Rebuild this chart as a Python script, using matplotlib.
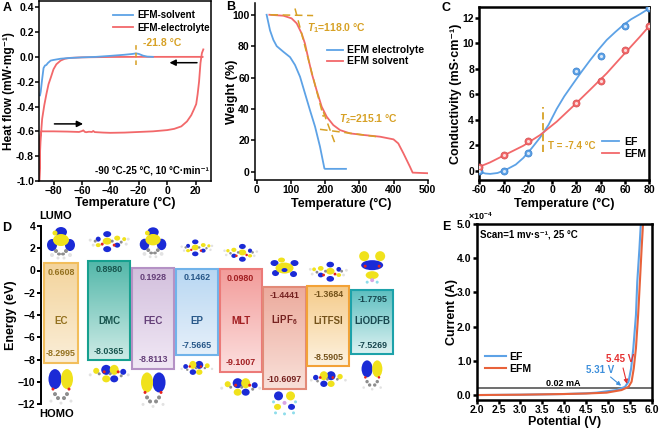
import numpy as np
import matplotlib
matplotlib.use('Agg')
import matplotlib.pyplot as plt
import matplotlib.colors as mcolors
from matplotlib.patches import Rectangle, Ellipse
from matplotlib.ticker import FuncFormatter, FormatStrFormatter

# ---------------- data ----------------
# A: DSC curves
a_solv_T = [-89.5, -89.0, -88.0, -87.0, -86.0, -85.0, -84.0, -82.0, -80.0, -75.0, -70.0, -60.0,
            -50.0, -40.0, -30.0, -24.0, -22.0, -20.0, -17.0, -14.0, -10.0]
a_solv_H = [-0.31, -0.28, -0.18, -0.09, -0.07, -0.065, -0.05, -0.03, -0.025, -0.015, -0.01, -0.004,
            0.0, 0.008, 0.017, 0.024, 0.028, 0.024, 0.01, 0.002, 0.0]
a_elec_T = [25.0, 10.0, 0.0, -20.0, -40.0, -60.0, -68.0, -72.0, -75.0, -78.0, -80.0, -82.0, -83.5,
            -85.0, -86.5, -88.0, -89.0, -89.6, -90.0, -89.8, -89.6, -89.3, -88.5, -85.0, -80.0,
            -70.0, -62.0, -60.0, -59.0, -58.0, -57.0, -55.0, -53.0, -52.0, -51.0, -45.0, -40.0,
            -30.0, -20.0, -10.0, 0.0, 5.0, 10.0, 14.0, 17.0, 19.0, 20.5, 21.5, 22.5, 23.5, 24.5, 25.5]
a_elec_H = [0.0, 0.0, 0.0, 0.0, -0.001, -0.004, -0.008, -0.015, -0.03, -0.06, -0.1, -0.17, -0.22,
            -0.3, -0.39, -0.5, -0.65, -0.8, -1.0, -0.9, -0.75, -0.63, -0.6, -0.6, -0.6,
            -0.602, -0.605, -0.598, -0.592, -0.604, -0.607, -0.603, -0.605, -0.597, -0.606, -0.61, -0.612,
            -0.61, -0.605, -0.6, -0.59, -0.58, -0.56, -0.52, -0.47, -0.42, -0.38, -0.3, -0.2, -0.05, 0.03, 0.06]
a_peak_T = -21.8
a_xticks = [-80, -60, -40, -20, 0, 20]
a_yticks = [-1.0, -0.8, -0.6, -0.4, -0.2, 0.0, 0.2, 0.4]

# B: TGA curves
b_elec_T = [29, 39, 48.7, 58.5, 78, 97.5, 112, 126.7, 141, 156, 170.6, 185, 198, 200, 261]
b_elec_W = [100, 90, 84, 80, 76.4, 73, 68, 60.5, 50, 39, 28.7, 16, 2.0, 1.8, 1.8]
b_solv_T = [37, 78, 102, 117, 131.6, 141, 151, 161, 175, 190, 204.7, 224, 243.7, 273, 312, 360.6,
            400, 414, 429, 448, 456, 502]
b_solv_W = [100, 99.4, 97.7, 94.5, 88, 81.7, 72, 62.6, 52, 41.4, 35, 29.7, 26.5, 24.4, 23.4, 22.3,
            20.6, 18, 11.7, 3.2, -0.6, -1.0]
b_T1 = 118.0
b_T2 = 215.1
b_tan1_T = [40, 165]
b_tan1_W = [100, 99.5]
b_tan2_T = [112, 195]
b_tan2_W = [104, 35]
b_tan3_T = [185, 351]
b_tan3_W = [27, 22.3]
b_tan4_T = [195, 229]
b_tan4_W = [38, 18]

# C: conductivity
c_T = [-60, -40, -20, 20, 40, 60, 80]
c_EF = [-0.05, 0.0, 1.36, 7.86, 9.04, 11.34, 12.8]
c_EFM = [0.31, 1.2, 2.3, 5.34, 7.05, 9.48, 11.37]
c_fitEF_T = [-60, -55, -51, -45, -37.5, -30, -23.8, -17, -10, -3, 3.7, 10, 17.4, 24, 31, 38,
             44.9, 52, 58.6, 65, 72.3, 80]
c_fitEF = [-0.08, -0.22, -0.25, -0.18, 0.1, 0.48, 1.0, 1.75, 2.6, 3.6, 4.85, 5.85, 6.86, 7.75,
           8.65, 9.5, 10.27, 10.9, 11.45, 11.9, 12.3, 12.76]
c_fitEFM_T = [-60, -51.2, -37.5, -23.8, -10, 3.7, 17.4, 31, 44.9, 58.6, 72.3, 80]
c_fitEFM = [0.31, 0.65, 1.31, 1.96, 2.8, 3.85, 5.08, 6.34, 7.65, 9.1, 10.53, 11.37]
c_cross_T = -7.4

# D: LUMO/HOMO energies
d_names = ['EC', 'DMC', 'FEC', 'EP', 'MLT', 'LiPF$_6$', 'LiTFSI', 'LiODFB']
d_lumo = [0.6608, 0.8980, 0.1928, 0.1462, 0.0980, -1.4441, -1.3684, -1.7795]
d_homo = [-8.2995, -8.0365, -8.8113, -7.5665, -9.1007, -10.6097, -8.5905, -7.5269]

# E: LSV
e_ef_V = [2.0, 2.5, 3.0, 3.5, 4.0, 4.5, 4.74, 5.2, 5.39, 5.47, 5.53, 5.58, 5.64, 5.67, 5.72, 5.75, 5.77]
e_ef_I = [0.0, 0.005, 0.01, 0.02, 0.03, 0.05, 0.07, 0.146, 0.24, 0.39, 0.78, 1.37, 2.34, 3.31, 4.29, 4.97, 5.6]
e_efm_V = [2.0, 2.5, 3.0, 3.5, 4.0, 4.5, 4.97, 5.31, 5.47, 5.54, 5.59, 5.64, 5.69, 5.73, 5.77, 5.80, 5.82]
e_efm_I = [0.0, 0.005, 0.01, 0.02, 0.03, 0.045, 0.07, 0.146, 0.24, 0.39, 0.78, 1.37, 2.34, 3.31, 4.29, 4.97, 5.6]
e_limit = 0.2          # 0.02 mA in units of 1e-4 A
e_onset = [5.31, 5.45]

# ---------------- style ----------------
plt.rcParams['font.family'] = ['Liberation Sans', 'DejaVu Sans']
plt.rcParams['font.weight'] = 'bold'
plt.rcParams['axes.labelweight'] = 'bold'
plt.rcParams['mathtext.fontset'] = 'custom'
plt.rcParams['mathtext.rm'] = 'Liberation Sans:bold'
plt.rcParams['mathtext.it'] = 'Liberation Sans:italic:bold'
plt.rcParams['mathtext.bf'] = 'Liberation Sans:bold'
plt.rcParams['mathtext.default'] = 'rm'

BLUE = '#5DA2E6'
RED = '#F2686A'
ERED = '#E8623A'
ORANGE = '#D7A125'
TICK = 7.5
LAB = 9

W, H = 660, 430
fig = plt.figure(figsize=(W / 100, H / 100), dpi=100)


def add_ax(l, t, r, b):
    return fig.add_axes([l / W, 1 - b / H, (r - l) / W, (b - t) / H])


def style(ax, lw=1.2, spines=('left', 'bottom', 'top', 'right')):
    for s in ['left', 'bottom', 'top', 'right']:
        ax.spines[s].set_visible(s in spines)
        ax.spines[s].set_linewidth(lw)
    ax.tick_params(direction='out', length=2.8, width=lw, labelsize=TICK, pad=1)


def place_labels(ax, l, t, r, b, ylab_right=None, xlab_top=None):
    if ylab_right is not None:
        ax.yaxis.set_label_coords((ylab_right - l) / (r - l), 0.5)
    if xlab_top is not None:
        ax.xaxis.set_label_coords(0.5, -(xlab_top - b) / (b - t))


def letter(x, y, s):
    fig.text(x / W, 1 - y / H, s, fontsize=9, fontweight='bold', va='top', ha='left')


# ---------------- A ----------------
A_BOX = (39.3, 1, 210.7, 181)
axA = add_ax(*A_BOX)
style(axA, 1.1)
lA2, = axA.plot(a_elec_T, a_elec_H, color=RED, lw=1.3, label='EFM-electrolyte')
lA1, = axA.plot(a_solv_T, a_solv_H, color=BLUE, lw=1.3, label='EFM-solvent')
axA.set_xlim(-90, 30.7)
axA.set_ylim(-1.0, 0.45)
axA.set_xticks(a_xticks)
axA.set_yticks(a_yticks)
axA.yaxis.set_major_formatter(FormatStrFormatter('%.1f'))
axA.set_xlabel('Temperature (°C)', fontsize=LAB)
axA.set_ylabel('Heat flow (mW·mg⁻¹)', fontsize=8.6)
place_labels(axA, *A_BOX, ylab_right=15.5, xlab_top=197)
axA.plot([a_peak_T, a_peak_T], [-0.065, 0.1], color=ORANGE, lw=1.1, ls=(0, (3, 2)))
axA.text(a_peak_T + 5, 0.11, f'{a_peak_T} °C', color=ORANGE, fontsize=7.5, va='center', ha='left')
axA.annotate('', xy=(-0.3, -0.047), xytext=(23, -0.047),
             arrowprops=dict(arrowstyle='-|>', color='k', lw=1.1, mutation_scale=9))
axA.annotate('', xy=(-57.2, -0.54), xytext=(-81.3, -0.54),
             arrowprops=dict(arrowstyle='-|>', color='k', lw=1.1, mutation_scale=9))
axA.text(0.99, 0.03, '-90 °C-25 °C, 10 °C·min⁻¹', transform=axA.transAxes,
         fontsize=7, ha='right', va='bottom')
axA.legend(handles=[lA1, lA2], loc='center left', bbox_to_anchor=(-38.3, 0.284),
           bbox_transform=axA.transData, frameon=False, fontsize=7, borderpad=0,
           borderaxespad=0, handlelength=2.1, handletextpad=0.4, labelspacing=0.25)
letter(3, 2, 'A')

# ---------------- B ----------------
B_BOX = (255, 3, 427.7, 180)
axB = add_ax(*B_BOX)
style(axB, 1.1, spines=('left', 'bottom'))
lB1, = axB.plot(b_elec_T, b_elec_W, color=BLUE, lw=1.3, label='EFM electrolyte')
lB2, = axB.plot(b_solv_T, b_solv_W, color=RED, lw=1.3, label='EFM solvent')
for tx, tw in [(b_tan1_T, b_tan1_W), (b_tan2_T, b_tan2_W), (b_tan3_T, b_tan3_W), (b_tan4_T, b_tan4_W)]:
    axB.plot(tx, tw, color=ORANGE, lw=1.1, ls=(0, (5, 3)))
axB.set_xlim(-5, 500)
axB.set_ylim(-5.3, 107.5)
axB.set_xticks([0, 100, 200, 300, 400, 500])
axB.set_yticks([0, 20, 40, 60, 80, 100])
axB.set_xlabel('Temperature (°C)', fontsize=LAB)
axB.set_ylabel('Weight (%)', fontsize=LAB)
place_labels(axB, *B_BOX, ylab_right=238.3, xlab_top=198)
axB.text(148, 91.4, r'$\mathit{T}_1$' + f'={b_T1:.1f} °C', color=ORANGE, fontsize=7.5, va='center')
axB.text(241.5, 33.4, r'$\mathit{T}_2$' + f'={b_T2:.1f} °C', color=ORANGE, fontsize=7.5, va='center')
axB.legend(handles=[lB1, lB2], loc='center left', bbox_to_anchor=(204.6, 73.9),
           bbox_transform=axB.transData, frameon=False, fontsize=7.5, borderpad=0,
           borderaxespad=0, handlelength=1.6, handletextpad=0.35, labelspacing=0.1)
letter(226, 1, 'B')

# ---------------- C ----------------
C_BOX = (479.3, 7.3, 649.3, 180)
axC = add_ax(*C_BOX)
style(axC, 1.8)
lC1, = axC.plot(c_fitEF_T, c_fitEF, color=BLUE, lw=1.3, label='EF')
lC2, = axC.plot(c_fitEFM_T, c_fitEFM, color=RED, lw=1.3, label='EFM')
axC.scatter(c_T, c_EF, s=26, color=BLUE, edgecolors='#3A7FCC', linewidths=0.5, zorder=4)
axC.scatter(c_T, c_EF, s=5, color='#D8E8FA', linewidths=0, zorder=5)
axC.scatter(c_T, c_EFM, s=26, color=RED, edgecolors='#D24E50', linewidths=0.5, zorder=4)
axC.scatter(c_T, c_EFM, s=5, color='#FBDCDC', linewidths=0, zorder=5)
axC.plot([c_cross_T, c_cross_T], [1.5, 5.0], color=ORANGE, lw=1.3, ls=(0, (4, 2)))
axC.text(c_cross_T + 4.2, 1.96, f'T = {c_cross_T} °C', color=ORANGE, fontsize=7, va='center')
axC.set_xlim(-60, 80)
axC.set_ylim(-0.73, 12.84)
axC.set_xticks([-60, -40, -20, 0, 20, 40, 60, 80])
axC.set_yticks([0, 2, 4, 6, 8, 10, 12])
axC.xaxis.set_major_formatter(FuncFormatter(lambda v, p: f'{v:g}'))
axC.set_xlabel('Temperature (°C)', fontsize=LAB)
axC.set_ylabel('Conductivity (mS·cm⁻¹)', fontsize=LAB)
place_labels(axC, *C_BOX, ylab_right=462, xlab_top=198)
axC.legend(handles=[lC1, lC2], loc='center left', bbox_to_anchor=(40.8, 1.8),
           bbox_transform=axC.transData, frameon=False, fontsize=7.5, borderpad=0,
           borderaxespad=0, handlelength=1.7, handletextpad=0.45, labelspacing=0.2)
letter(442, 2, 'C')

# ---------------- D ----------------
D_L, D_T, D_R, D_B = 40.7, 226, 400, 404
axD = add_ax(D_L, D_T, D_R, D_B)
style(axD, 1.4, spines=('left',))
D_XMIN, D_XMAX = -0.563, 7.635
axD.set_xlim(D_XMIN, D_XMAX)
axD.set_ylim(-12, 4)
axD.set_xticks([])
axD.set_yticks(list(range(-12, 5, 2)))
axD.set_ylabel('Energy (eV)', fontsize=LAB)
place_labels(axD, D_L, D_T, D_R, D_B, ylab_right=17)

box_w = [0.76, 0.96, 0.96, 0.96, 0.96, 0.96, 0.96, 0.96]
box_dx = [-0.1, 0, 0, 0, 0, 0, 0, 0]
box_top_c = ['#F3D49C', '#52B7A9', '#D3C0DD', '#B8D7F2', '#F29C9A', '#ECAB9D', '#F5CB8A', '#5DBFC0']
box_bot_c = ['#FBEED8', '#CDEBE6', '#F1E8F5', '#E6F0FA', '#FCE0DF', '#F9E0D9', '#FDF2DF', '#DDF2F2']
box_edge = ['#F2BE5C', '#16A08F', '#B592C5', '#71B3EA', '#EC7A78', '#E28A78', '#F3A237', '#1DA2AA']
box_txt = ['#94711F', '#17544D', '#643F78', '#285889', '#A21F22', '#762220', '#74521A', '#18474F']

for i, (nm, lu, ho) in enumerate(zip(d_names, d_lumo, d_homo)):
    xc = i + box_dx[i]
    x0, x1 = xc - box_w[i] / 2, xc + box_w[i] / 2
    ct = np.array(mcolors.to_rgb(box_top_c[i]))
    cb = np.array(mcolors.to_rgb(box_bot_c[i]))
    t = np.linspace(0, 1, 64)[:, None, None]
    img = ct[None, None, :] * (1 - t) + cb[None, None, :] * t
    axD.imshow(img, extent=[x0, x1, ho, lu], aspect='auto', origin='upper', zorder=1,
               interpolation='bilinear')
    axD.add_patch(Rectangle((x0, ho), x1 - x0, lu - ho, fill=False, ec=box_edge[i], lw=1.5, zorder=2))
    axD.text(xc, lu - 0.8, f'{lu:.4f}', ha='center', va='center', fontsize=6.4, color=box_txt[i], zorder=4)
    axD.text(xc, ho + 0.8, f'{ho:.4f}', ha='center', va='center', fontsize=6.4, color=box_txt[i], zorder=4)
    axD.text(xc, -4.5, nm, ha='center', va='center', fontsize=7, color=box_txt[i], zorder=4)
axD.set_xlim(D_XMIN, D_XMAX)
axD.set_ylim(-12, 4)

# orbital icons (decorative)
PX_X = (D_XMAX - D_XMIN) / (D_R - D_L)
PX_Y = 16.0 / (D_B - D_T)
COL = {'Y': '#F0E21C', 'B': '#1B2BD6', 'G': '#8E8E8E', 'W': '#E2E2E2', 'R': '#E5231E',
       'C': '#8FDDEB', 'P': '#D9A6E3'}
ORB = {
    'ring_lumo': [('B', -9, -3, 10, 12), ('B', 9, -3, 10, 12), ('B', 0, 10, 12, 10), ('Y', 0, 2, 16, 12),
                  ('Y', -6, 9, 5, 5), ('G', -5, -9, 4, 4), ('G', 5, -9, 4, 4), ('G', -2, -12, 4, 3),
                  ('G', 2, -12, 4, 3), ('W', -9, -13, 4, 4), ('W', 9, -13, 4, 4), ('W', -3, -16, 3, 3),
                  ('W', 3, -16, 3, 3)],
    'chain_lumo': [('B', -2, 8, 8, 6), ('B', -2, -7, 8, 6), ('Y', -2, 1, 9, 7), ('B', -11, 3, 5, 5),
                   ('Y', -11, -3, 5, 4), ('Y', 8, 4, 6, 5), ('B', 8, -3, 6, 5), ('Y', 15, 3, 4, 4),
                   ('W', -19, 2, 3, 3), ('W', -16, -3, 3, 3), ('G', -14, 1, 3, 3), ('R', -7, -2, 3, 3),
                   ('G', 3, 1, 3, 3), ('R', 5, -3, 3, 3), ('G', 12, 0, 3, 3), ('W', 17, -2, 3, 3),
                   ('W', 19, 3, 3, 3)],
    'chain_homo': [('B', -3, 3, 10, 10), ('Y', 5, 3, 9, 10), ('Y', -3, -6, 8, 7), ('B', 5, -6, 8, 7),
                   ('Y', -13, 2, 6, 6), ('B', 14, 1, 6, 6), ('W', -19, -2, 3, 3), ('G', -10, -1, 3, 3),
                   ('R', -5, 1, 3, 3), ('G', 1, -1, 3, 3), ('R', 9, 1, 3, 3), ('G', 12, -3, 3, 3),
                   ('W', 19, -2, 3, 3)],
    'dumbbell': [('B', -6, 6, 13, 20), ('Y', 6, 6, 12, 20), ('R', -8, -4, 3, 3), ('R', 8, -4, 3, 3),
                 ('G', -6, -9, 4, 4), ('G', 6, -9, 4, 4), ('G', -3, -13, 4, 4), ('G', 3, -13, 4, 4),
                 ('W', -10, -16, 3, 3), ('W', 10, -16, 3, 3), ('W', 0, -18, 3, 3)],
    'pf6_lumo': [('B', -10, 5, 8, 6), ('B', 10, 5, 8, 6), ('B', -9, -5, 7, 6), ('B', 9, -6, 7, 6),
                 ('Y', 0, 0, 18, 11), ('Y', -3, 8, 7, 5), ('B', 0, -2, 6, 4)],
    'pf6_homo': [('B', -6, 7, 9, 9), ('Y', 6, 7, 9, 9), ('Y', -7, -4, 7, 6), ('B', 7, -4, 7, 6),
                 ('P', 0, 0, 4, 4), ('C', -9, -10, 3, 3), ('C', 9, -10, 3, 3), ('C', 0, -11, 3, 3),
                 ('C', -11, 1, 3, 3), ('C', 11, 1, 3, 3)],
    'odfb_lumo': [('Y', -8, 11, 10, 10), ('Y', 8, 11, 10, 10), ('B', 0, 2, 22, 10), ('R', -7, 1, 3, 3),
                  ('R', 7, 1, 3, 3), ('Y', 0, -8, 13, 8), ('P', 0, -13, 4, 4), ('C', -5, -15, 3, 3),
                  ('C', 5, -15, 3, 3)],
}
orb_lumo = [('ring_lumo', 2.56, 1.0, False), ('chain_lumo', 2.55, 1.0, False),
            ('ring_lumo', 2.6, 0.95, False), ('chain_lumo', 2.0, 0.8, False),
            ('chain_lumo', 1.55, 0.85, True), ('pf6_lumo', 0.22, 1.0, False),
            ('chain_lumo', -0.15, 0.95, True), ('odfb_lumo', 0.3, 1.0, False)]
orb_homo = [('dumbbell', -10.3, 1.0, False), ('chain_homo', -9.2, 1.0, False),
            ('dumbbell', -10.6, 1.0, True), ('chain_homo', -8.7, 0.8, True),
            ('chain_homo', -10.4, 1.0, False), ('pf6_homo', -11.9, 1.0, False),
            ('chain_homo', -9.7, 0.9, True), ('dumbbell', -9.3, 0.85, False)]


def draw_orb(xc, yc, pat, s, flip):
    for c, dx, dy, w, h in ORB[pat]:
        if flip:
            dx = -dx
        axD.add_patch(Ellipse((xc + dx * s * PX_X, yc + dy * s * PX_Y), w * s * PX_X, h * s * PX_Y,
                              color=COL[c], lw=0, clip_on=False, zorder=3))


for i in range(len(d_names)):
    xc = i + box_dx[i]
    for pat, yc, s, fl in (orb_lumo[i], orb_homo[i]):
        draw_orb(xc, yc, pat, s, fl)

fig.text(56 / W, 1 - 216 / H, 'LUMO', fontsize=8, ha='center', va='center')
fig.text(57 / W, 1 - 414 / H, 'HOMO', fontsize=8, ha='center', va='center')
letter(2, 222, 'D')

# ---------------- E ----------------
E_BOX = (476.7, 224, 651.7, 399.5)
axE = add_ax(*E_BOX)
style(axE, 1.8)
lE1, = axE.plot(e_ef_V, e_ef_I, color=BLUE, lw=1.5, label='EF')
lE2, = axE.plot(e_efm_V, e_efm_I, color=ERED, lw=1.5, label='EFM')
axE.axhline(e_limit, color='#555555', lw=1.2, zorder=1)
axE.set_xlim(2.0, 6.0)
axE.set_ylim(-0.13, 5.0)
axE.set_xticks([2.0, 2.5, 3.0, 3.5, 4.0, 4.5, 5.0, 5.5, 6.0])
axE.set_yticks([0, 1, 2, 3, 4, 5])
axE.xaxis.set_major_formatter(FormatStrFormatter('%.1f'))
axE.yaxis.set_major_formatter(FormatStrFormatter('%.1f'))
axE.set_xlabel('Potential (V)', fontsize=LAB)
axE.set_ylabel('Current (A)', fontsize=LAB)
place_labels(axE, *E_BOX, ylab_right=458, xlab_top=416)
axE.text(3.98, e_limit + 0.14, '0.02 mA', fontsize=6.5, ha='center', va='center')
axE.text(2.08, 4.68, 'Scan=1 mv·s⁻¹, 25 °C', fontsize=7, ha='left', va='center')
axE.text(4.82, 0.73, f'{e_onset[0]} V', color='#3D8FDB', fontsize=7, ha='center', va='center')
axE.text(5.28, 1.05, f'{e_onset[1]} V', color='#E53030', fontsize=7, ha='center', va='center')
axE.annotate('', xy=(e_onset[0] + 0.04, e_limit + 0.02), xytext=(5.01, 0.58),
             arrowprops=dict(arrowstyle='-|>', color='#3D8FDB', lw=0.8, mutation_scale=6))
axE.annotate('', xy=(e_onset[1], e_limit + 0.05), xytext=(5.33, 0.87),
             arrowprops=dict(arrowstyle='-|>', color='#E53030', lw=0.8, mutation_scale=6))
axE.legend(handles=[lE1, lE2], loc='center left', bbox_to_anchor=(2.19, 0.935),
           bbox_transform=axE.transData, frameon=False, fontsize=7.5, borderpad=0,
           borderaxespad=0, handlelength=2.0, handletextpad=0.35, labelspacing=0.2)
fig.text(468 / W, 1 - 222 / H, '×10$^{-4}$', fontsize=6.5, ha='left', va='bottom')
letter(442, 221, 'E')

fig.savefig('out.png', dpi=100)
